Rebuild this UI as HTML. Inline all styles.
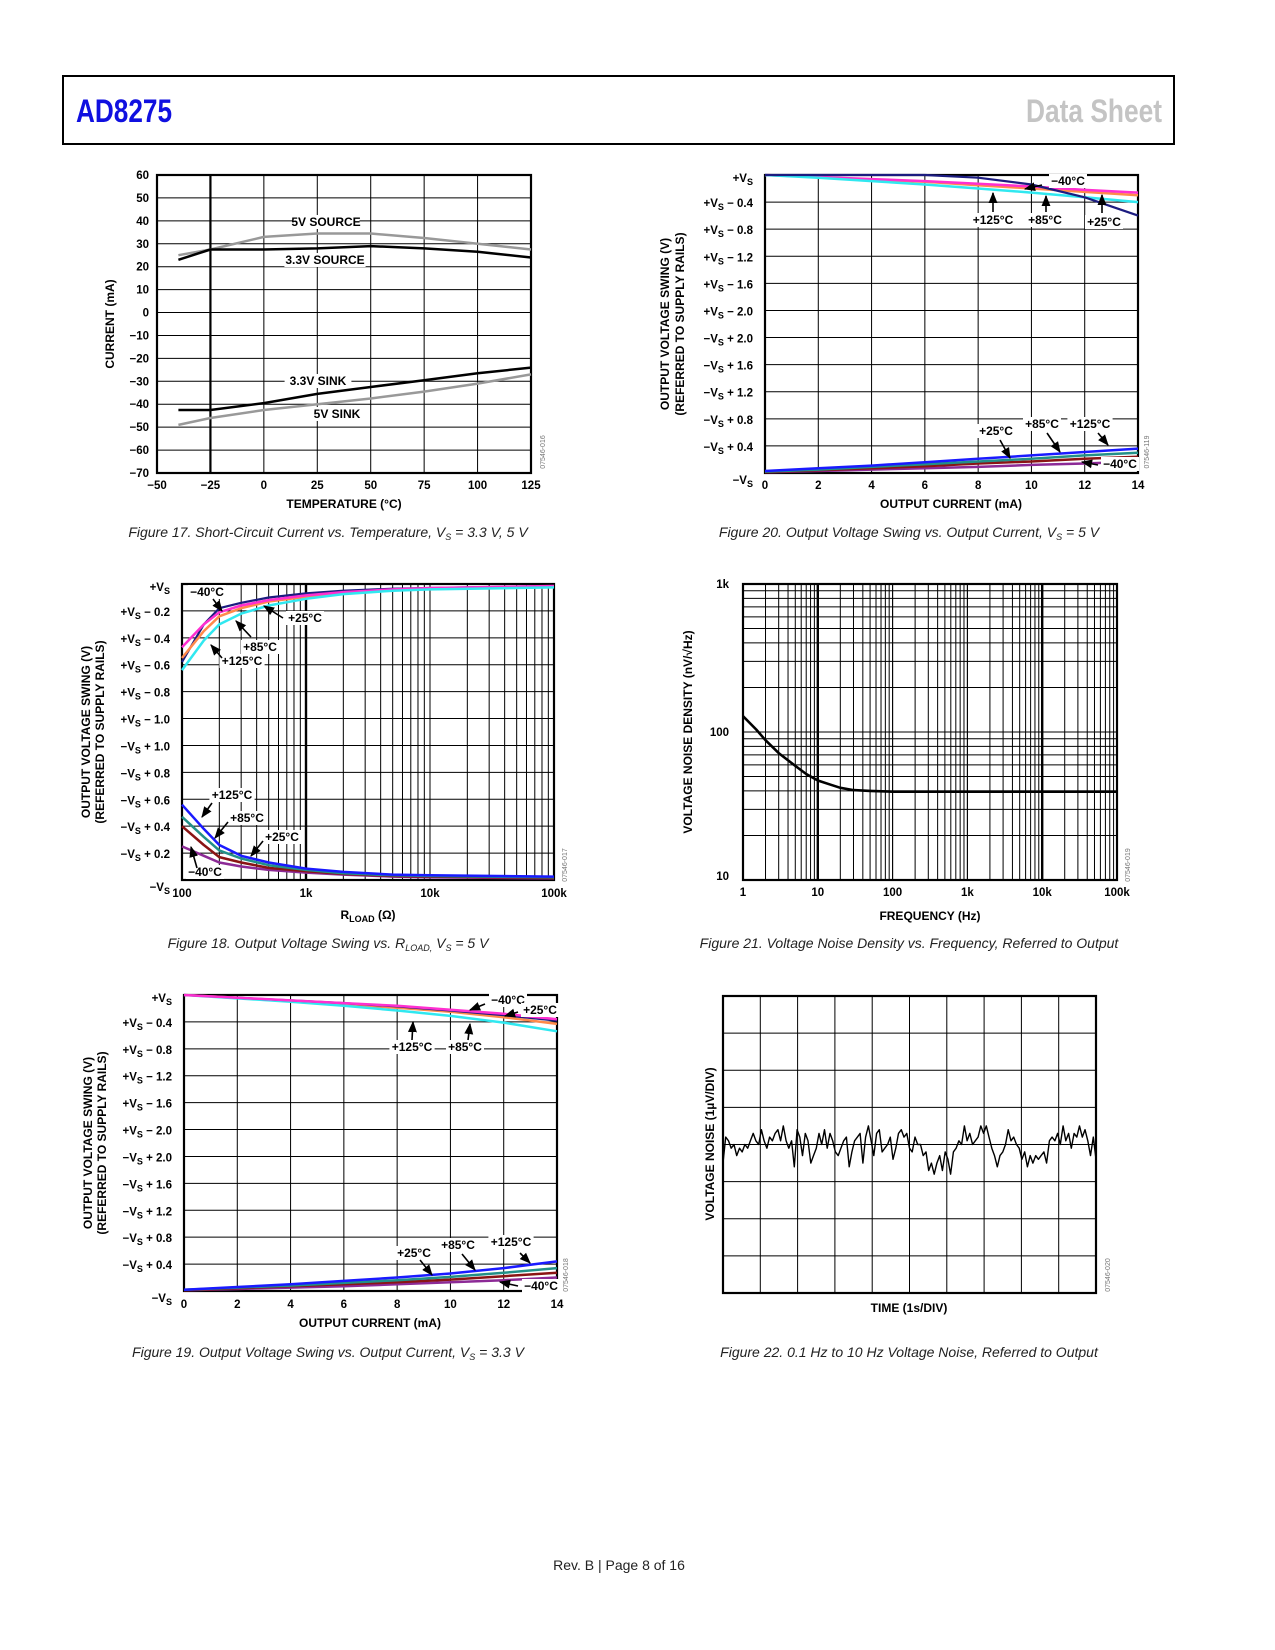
<!DOCTYPE html>
<html><head><meta charset="utf-8"><style>
html,body{margin:0;padding:0;background:#fff;}
svg{display:block;}
text{font-family:"Liberation Sans",Arial,sans-serif;}
.tk{font-size:11.5px;font-weight:bold;fill:#000;}
.lb{font-size:12px;font-weight:bold;fill:#000;}
.cap{font-size:14px;font-style:italic;fill:#222;}
.code{font-size:7px;fill:#777;}
</style></head><body>
<svg id="page" width="1275" height="1650" viewBox="0 0 1275 1650" xmlns="http://www.w3.org/2000/svg">
<defs><marker id="ah" viewBox="0 0 10 10" refX="9" refY="5" markerWidth="7" markerHeight="7" orient="auto"><path d="M0,1 L10,5 L0,9 z" fill="#000"/></marker></defs>
<rect x="63" y="76" width="1111" height="68" fill="none" stroke="#000" stroke-width="2"/>
<text x="76" y="122" font-size="32" font-weight="bold" fill="#1010e0" textLength="96" lengthAdjust="spacingAndGlyphs">AD8275</text>
<text x="1162" y="122" font-size="32" font-weight="bold" fill="#c4c4c4" text-anchor="end" textLength="136" lengthAdjust="spacingAndGlyphs">Data Sheet</text>
<text x="619" y="1570" font-size="14" fill="#222" text-anchor="middle">Rev. B | Page 8 of 16</text>

<text class="cap" x="328" y="537" text-anchor="middle">Figure 17. Short-Circuit Current vs. Temperature, V<tspan font-size="9" dy="3">S</tspan><tspan dy="-3"> = 3.3 V, 5 V</tspan></text>
<text class="cap" x="909" y="537" text-anchor="middle">Figure 20. Output Voltage Swing vs. Output Current, V<tspan font-size="9" dy="3">S</tspan><tspan dy="-3"> = 5 V</tspan></text>
<text class="cap" x="328" y="948" text-anchor="middle">Figure 18. Output Voltage Swing vs. R<tspan font-size="9" dy="3">LOAD,</tspan><tspan dy="-3"> V</tspan><tspan font-size="9" dy="3">S</tspan><tspan dy="-3"> = 5 V</tspan></text>
<text class="cap" x="909" y="948" text-anchor="middle">Figure 21. Voltage Noise Density vs. Frequency, Referred to Output</text>
<text class="cap" x="328" y="1357" text-anchor="middle">Figure 19. Output Voltage Swing vs. Output Current, V<tspan font-size="9" dy="3">S</tspan><tspan dy="-3"> = 3.3 V</tspan></text>
<text class="cap" x="909" y="1357" text-anchor="middle">Figure 22. 0.1 Hz to 10 Hz Voltage Noise, Referred to Output</text>
</svg>
<script>
// ---------- Figure 17 data ----------
const f17Temps=[-40,-25,0,25,50,75,100,125];
const f17Src33=[23,27.5,27.5,28,29,28,26.5,24];
const f17Src5=[25,27.5,33,34.5,34.5,32.5,30,27.5];
const f17Sink33=[-42.5,-42.5,-39.5,-35.5,-32.5,-29.5,-26.5,-24];
const f17Sink5=[-49,-46,-42.5,-40,-37.5,-34.5,-31,-27];
const f17XTicks=[-50,-25,0,25,50,75,100,125];
const f17YTicks=[60,50,40,30,20,10,0,-10,-20,-30,-40,-50,-60,-70];
// ---------- Figure 20 data (Vs=5V) ----------
const f20Current=[0,2,4,6,8,10,12,14];
const f20TopM40=[0,0,0,0,0.04,0.14,0.33,0.6];
const f20Top25=[0,0.03,0.06,0.09,0.13,0.17,0.22,0.26];
const f20Top85=[0,0.03,0.07,0.1,0.15,0.2,0.25,0.3];
const f20Top125=[0,0.04,0.09,0.14,0.2,0.26,0.33,0.4];
const f20Bot125=[0.03,0.07,0.11,0.16,0.21,0.26,0.31,0.36];
const f20Bot85=[0.02,0.05,0.09,0.13,0.17,0.21,0.26,0.30];
const f20Bot25=[0.01,0.04,0.07,0.10,0.14,0.17,0.21,0.24];
const f20BotM40=[0.01,0.03,0.05,0.07,0.09,0.12,0.14,0.17];
const f20XTicks=[0,2,4,6,8,10,12,14];
// ---------- Figure 18 data ----------
const f18Rload=[100,150,200,300,500,1000,2000,5000,10000,100000];
const f18TopM40=[0.58,0.3,0.18,0.14,0.1,0.07,0.05,0.035,0.03,0.015];
const f18Top25=[0.47,0.3,0.21,0.16,0.12,0.085,0.06,0.04,0.03,0.015];
const f18Top85=[0.55,0.35,0.24,0.18,0.13,0.095,0.065,0.045,0.035,0.02];
const f18Top125=[0.64,0.42,0.3,0.22,0.16,0.11,0.075,0.05,0.04,0.025];
const f18Bot125=[0.56,0.38,0.26,0.18,0.13,0.085,0.06,0.04,0.035,0.025];
const f18Bot85=[0.47,0.32,0.22,0.16,0.11,0.075,0.05,0.035,0.03,0.02];
const f18Bot25=[0.40,0.26,0.17,0.13,0.09,0.065,0.045,0.03,0.025,0.015];
const f18BotM40=[0.25,0.18,0.13,0.1,0.075,0.055,0.04,0.025,0.02,0.012];
const f18XTicks=["100","1k","10k","100k"];
// ---------- Figure 19 data (Vs=3.3V) ----------
const f19Current=[0,2,4,6,8,10,12,14];
const f19TopM40=[0,0.04,0.08,0.12,0.17,0.23,0.3,0.38];
const f19Top25=[0,0.04,0.08,0.12,0.16,0.22,0.28,0.36];
const f19Top85=[0,0.04,0.09,0.14,0.19,0.25,0.33,0.43];
const f19Top125=[0,0.05,0.1,0.16,0.23,0.31,0.41,0.54];
const f19Bot125=[0.02,0.06,0.1,0.15,0.2,0.26,0.34,0.44];
const f19Bot85=[0.02,0.05,0.08,0.12,0.16,0.21,0.27,0.34];
const f19Bot25=[0.01,0.04,0.07,0.1,0.13,0.17,0.22,0.27];
const f19BotM40=[0.01,0.03,0.05,0.07,0.1,0.13,0.16,0.2];
// ---------- Figure 21 data ----------
const f21Freq=[1,1.5,2,3,5,7,10,15,20,30,50,100,1000,10000,100000];
const f21Noise=[128,104,88,72,59,52,47,44,42,40.5,40,39.5,39.5,39.5,39.5];
const f21XTicks=["1","10","100","1k","10k","100k"];
const f21YTicks=["1k","100","10"];
// ---------- Figure 22 data (µV, 1 div = 1 µV) ----------
const f22Noise=[-0.5,0.2,0.1,-0.1,0,-0.3,-0.1,-0.2,0,-0.1,0.1,0.3,0.1,0,0.4,0.1,-0.1,0.2,0.1,0.3,0.4,0.1,0.5,0.1,-0.1,0.1,-0.6,0.4,0.2,-0.3,0.3,0.1,-0.5,-0.3,-0.1,0.3,0,0.4,-0.1,0.3,0.1,-0.2,-0.3,-0.1,0.1,0.2,-0.6,-0.2,0.1,0.2,0.3,-0.5,0.2,0.5,0.1,-0.3,0.3,0.4,-0.2,-0.1,0,0.2,-0.4,-0.1,0.3,0.4,0.2,0.3,-0.1,-0.2,0.2,0,0,-0.3,-0.2,-0.7,-0.5,-0.8,-0.5,-0.3,-0.7,-0.2,-0.4,-0.8,-0.2,-0.1,0.1,0,0.5,0.1,0.3,0,0.1,0.2,0.5,0.3,0.5,0.2,-0.1,-0.3,-0.6,-0.3,-0.2,0,0.4,0.1,0.2,0,-0.1,-0.4,-0.2,-0.6,-0.3,-0.5,-0.3,-0.4,-0.3,-0.2,-0.5,0.1,0.2,0.1,0.3,0,0.5,0.1,0.3,-0.1,0.3,0.2,0.5,0.2,0.4,0.1,-0.3,0.2,-0.4];

const svg=document.getElementById('page');
const NS='http://www.w3.org/2000/svg';
function mk(tag,name){const e=document.createElementNS(NS,tag);


svg.appendChild(e);return e;}
function ln(x1,y1,x2,y2,w,name){const e=mk('line',name);e.setAttribute('x1',x1);e.setAttribute('y1',y1);e.setAttribute('x2',x2);e.setAttribute('y2',y2);e.setAttribute('stroke','#000');e.setAttribute('stroke-width',w);return e;}
function tx(x,y,s,cls,anchor,name){const e=mk('text',name);e.setAttribute('x',x);e.setAttribute('y',y);e.setAttribute('class',cls);e.setAttribute('text-anchor',anchor||'middle');e.textContent=s;return e;}
function lbl(x,y,s,name){const w=s.length*7.2+2;const r=mk('rect',name+'-bg');r.setAttribute('x',x-w/2);r.setAttribute('y',y-11);r.setAttribute('width',w);r.setAttribute('height',14);r.setAttribute('fill','#fff');tx(x,y,s,'lb','middle',name);}
function arrow(x1,y1,x2,y2,name){const e=ln(x1,y1,x2,y2,1.6,name);e.setAttribute('marker-end','url(#ah)');}
function poly(xs,ys,fx,fy,color,w,name){const e=mk('polyline',name);e.setAttribute('points',xs.map((v,i)=>fx(v).toFixed(1)+','+fy(ys[i]).toFixed(1)).join(' '));e.setAttribute('fill','none');e.setAttribute('stroke',color);e.setAttribute('stroke-width',w);e.setAttribute('stroke-linejoin','round');return e;}
function frame(L,T,R,B,name){const r=mk('rect',name);r.setAttribute('x',L);r.setAttribute('y',T);r.setAttribute('width',R-L);r.setAttribute('height',B-T);r.setAttribute('fill','none');r.setAttribute('stroke','#000');r.setAttribute('stroke-width',2.2);}
function vtitle(x,y,s,name){const e=tx(x,y,s,'lb','middle',name);e.setAttribute('transform','rotate(-90 '+x+' '+y+')');}
function code(x,y,s){const e=tx(x,y,s,'code','middle','figure-code');e.setAttribute('transform','rotate(-90 '+x+' '+y+')');}
function vsLabel(x,y,sign,rest,name){const e=mk('text',name);e.setAttribute('x',x);e.setAttribute('y',y);e.setAttribute('class','tk');e.setAttribute('text-anchor','end');
e.innerHTML=sign+'V<tspan font-size="9" dy="3">S</tspan><tspan dy="-3">'+rest+'</tspan>';}
const COL={navy:'#1c1c80',mag:'#ff2fd0',ora:'#ff8a4a',cya:'#30e8f0',blu:'#1a1aff',tea:'#229088',bro:'#8a1414',pur:'#8c2a96'};
const YL5=[['+',''],['+',' − 0.4'],['+',' − 0.8'],['+',' − 1.2'],['+',' − 1.6'],['+',' − 2.0'],['−',' + 2.0'],['−',' + 1.6'],['−',' + 1.2'],['−',' + 0.8'],['−',' + 0.4'],['−','']];
const YL18=[['+',''],['+',' − 0.2'],['+',' − 0.4'],['+',' − 0.6'],['+',' − 0.8'],['+',' − 1.0'],['−',' + 1.0'],['−',' + 0.8'],['−',' + 0.6'],['−',' + 0.4'],['−',' + 0.2'],['−','']];

// ===== Figure 17 =====
(function(){const L=157,T=175,R=531,B=473;
const fx=v=>L+(v+50)/175*(R-L), fy=v=>T+(60-v)/130*(B-T);
f17XTicks.forEach(v=>{ln(fx(v),T,fx(v),B,v===-25?2.2:1,'fig17-vgrid');tx(fx(v),B+16,(v<0?'−'+(-v):v),'tk','middle','fig17-x-tick');});
f17YTicks.forEach(v=>{ln(L,fy(v),R,fy(v),1,'fig17-hgrid');tx(L-8,fy(v)+4,(v<0?'−'+(-v):v),'tk','end','fig17-y-tick');});
frame(L,T,R,B,'fig17-plot-frame');
poly(f17Temps,f17Src5,fx,fy,'#999',2.5,'fig17-5v-source');
poly(f17Temps,f17Src33,fx,fy,'#000',2.5,'fig17-3v3-source');
poly(f17Temps,f17Sink33,fx,fy,'#000',2.5,'fig17-3v3-sink');
poly(f17Temps,f17Sink5,fx,fy,'#999',2.5,'fig17-5v-sink');
lbl(326,226,'5V SOURCE','fig17-label-5v-source');lbl(325,264,'3.3V SOURCE','fig17-label-3v3-source');
lbl(318,385,'3.3V SINK','fig17-label-3v3-sink');lbl(337,418,'5V SINK','fig17-label-5v-sink');
vtitle(114,324,'CURRENT (mA)','fig17-y-title');tx(344,508,'TEMPERATURE (°C)','lb','middle','fig17-x-title');code(545,452,'07546-016');
})();

// ===== Figure 20 =====
(function(){const L=765,T=175,R=1138,B=473,D=(B-T)/11;
const fx=v=>L+v/14*(R-L), ft=v=>T+v/0.4*D, fb=v=>B-v/0.4*D;
f20XTicks.forEach(v=>{ln(fx(v),T,fx(v),B,1,'fig20-vgrid');tx(fx(v),B+16,v,'tk','middle','fig20-x-tick');});
for(let i=0;i<=11;i++){ln(L,T+i*D,R,T+i*D,1,'fig20-hgrid');vsLabel(L-12,T+i*D+5+(i==0?2:0)+(i==11?6:0),YL5[i][0],YL5[i][1],'fig20-y-tick');}
frame(L,T,R,B,'fig20-plot-frame');
poly(f20Current,f20Top85,fx,ft,COL.ora,2.5,'fig20-top-85c');poly(f20Current,f20Top25,fx,ft,COL.mag,2.5,'fig20-top-25c');
poly(f20Current,f20Top125,fx,ft,COL.cya,2.5,'fig20-top-125c');poly(f20Current,f20TopM40,fx,ft,COL.navy,2.2,'fig20-top-m40c');
poly(f20Current,f20BotM40,fx,fb,COL.pur,2.5,'fig20-bot-m40c');poly(f20Current,f20Bot25,fx,fb,COL.bro,2.5,'fig20-bot-25c');
poly(f20Current,f20Bot85,fx,fb,COL.tea,2.5,'fig20-bot-85c');poly(f20Current,f20Bot125,fx,fb,COL.blu,2.5,'fig20-bot-125c');
lbl(1068,185,'−40°C','fig20-label-m40');arrow(1042,185,1025,189,'fig20-arrow');
lbl(993,224,'+125°C','fig20-label-125');arrow(993,212,993,193,'fig20-arrow');
lbl(1045,224,'+85°C','fig20-label-85');arrow(1046,212,1046,196,'fig20-arrow');
lbl(1104,226,'+25°C','fig20-label-25');arrow(1102,213,1102,195,'fig20-arrow');
lbl(996,435,'+25°C','fig20-label-b25');arrow(1000,440,1010,458,'fig20-arrow');
lbl(1042,428,'+85°C','fig20-label-b85');arrow(1047,433,1060,452,'fig20-arrow');
lbl(1090,428,'+125°C','fig20-label-b125');arrow(1098,433,1108,445,'fig20-arrow');
lbl(1120,468,'−40°C','fig20-label-bm40');arrow(1098,465,1082,462,'fig20-arrow');
vtitle(669,324,'OUTPUT VOLTAGE SWING (V)','fig20-y-title');vtitle(684,324,'(REFERRED TO SUPPLY RAILS)','fig20-y-title-2');
tx(951,508,'OUTPUT CURRENT (mA)','lb','middle','fig20-x-title');code(1149,452,'07546-119');
})();

// ===== Figure 18 =====
(function(){const L=182,T=584,R=554,B=880,D=(B-T)/11,dec=(R-L)/3;
const fx=v=>L+Math.log10(v/100)*dec, ft=v=>T+v/0.2*D, fb=v=>B-v/0.2*D;
for(let d=0;d<3;d++)for(let m=1;m<=10;m++){const x=L+d*dec+Math.log10(m)*dec;ln(x,T,x,B,(m==1&&d==1)?2.4:1,'fig18-vgrid');}
f18XTicks.forEach((s,i)=>tx(L+i*dec,B+17,s,'tk','middle','fig18-x-tick'));
for(let i=0;i<=11;i++){ln(L,T+i*D,R,T+i*D,1,'fig18-hgrid');vsLabel(L-12,T+i*D+5+(i==0?2:0)+(i==11?6:0),YL18[i][0],YL18[i][1],'fig18-y-tick');}
frame(L,T,R,B,'fig18-plot-frame');
poly(f18Rload,f18TopM40,fx,ft,COL.navy,2.2,'fig18-top-m40c');poly(f18Rload,f18Top85,fx,ft,COL.ora,2.5,'fig18-top-85c');
poly(f18Rload,f18Top25,fx,ft,COL.mag,2.5,'fig18-top-25c');poly(f18Rload,f18Top125,fx,ft,COL.cya,2.5,'fig18-top-125c');
poly(f18Rload,f18BotM40,fx,fb,COL.pur,2.5,'fig18-bot-m40c');poly(f18Rload,f18Bot25,fx,fb,COL.bro,2.5,'fig18-bot-25c');
poly(f18Rload,f18Bot85,fx,fb,COL.tea,2.5,'fig18-bot-85c');poly(f18Rload,f18Bot125,fx,fb,COL.blu,2.5,'fig18-bot-125c');
lbl(207,596,'−40°C','fig18-label-m40');arrow(213,599,222,611,'fig18-arrow');
lbl(305,622,'+25°C','fig18-label-25');arrow(283,618,264,606,'fig18-arrow');
lbl(260,651,'+85°C','fig18-label-85');arrow(251,637,236,621,'fig18-arrow');
lbl(242,665,'+125°C','fig18-label-125');arrow(222,658,211,645,'fig18-arrow');
lbl(232,799,'+125°C','fig18-label-b125');arrow(212,803,202,817,'fig18-arrow');
lbl(247,822,'+85°C','fig18-label-b85');arrow(228,822,215,838,'fig18-arrow');
lbl(282,841,'+25°C','fig18-label-b25');arrow(263,841,251,856,'fig18-arrow');
lbl(205,876,'−40°C','fig18-label-bm40');arrow(197,868,191,847,'fig18-arrow');
vtitle(90,732,'OUTPUT VOLTAGE SWING (V)','fig18-y-title');vtitle(104,732,'(REFERRED TO SUPPLY RAILS)','fig18-y-title-2');
const t=tx(368,919,'','lb','middle','fig18-x-title');t.innerHTML='R<tspan font-size="9" dy="3">LOAD</tspan><tspan dy="-3"> (Ω)</tspan>';
code(567,865,'07546-017');
})();

// ===== Figure 21 =====
(function(){const L=743,T=584,R=1117,B=880,dec=(R-L)/5,vd=(B-T)/2;
const fx=v=>L+Math.log10(v)*dec, fy=v=>B-Math.log10(v/10)*vd;
for(let d=0;d<5;d++)for(let m=1;m<=10;m++){const x=L+d*dec+Math.log10(m)*dec;ln(x,T,x,B,(m==1&&(d==1||d==4))?2.4:1,'fig21-vgrid');}
for(let d=0;d<2;d++)for(let m=1;m<=10;m++){const y=B-d*vd-Math.log10(m)*vd;ln(L,y,R,y,1,'fig21-hgrid');}
f21XTicks.forEach((s,i)=>tx(L+i*dec,B+16,s,'tk','middle','fig21-x-tick'));
f21YTicks.forEach((s,i)=>tx(L-14,T+i*vd+(i==2?0:4),s,'tk','end','fig21-y-tick'));
frame(L,T,R,B,'fig21-plot-frame');
poly(f21Freq,f21Noise,fx,fy,'#000',2.6,'fig21-noise-curve');
vtitle(692,732,'VOLTAGE NOISE DENSITY (nV/√Hz)','fig21-y-title');tx(930,920,'FREQUENCY (Hz)','lb','middle','fig21-x-title');code(1130,865,'07546-019');
})();

// ===== Figure 19 =====
(function(){const L=184,T=995,R=557,B=1291,D=(B-T)/11;
const fx=v=>L+v/14*(R-L), ft=v=>T+v/0.4*D, fb=v=>B-v/0.4*D;
f20XTicks.forEach(v=>{ln(fx(v),T,fx(v),B,1,'fig19-vgrid');tx(fx(v),B+17,v,'tk','middle','fig19-x-tick');});
for(let i=0;i<=11;i++){ln(L,T+i*D,R,T+i*D,1,'fig19-hgrid');vsLabel(L-12,T+i*D+5+(i==0?2:0)+(i==11?6:0),YL5[i][0],YL5[i][1],'fig19-y-tick');}
frame(L,T,R,B,'fig19-plot-frame');
poly(f19Current,f19Top85,fx,ft,COL.ora,2.5,'fig19-top-85c');poly(f19Current,f19Top125,fx,ft,COL.cya,2.5,'fig19-top-125c');
poly(f19Current,f19TopM40,fx,ft,COL.navy,2.2,'fig19-top-m40c');poly(f19Current,f19Top25,fx,ft,COL.mag,2.5,'fig19-top-25c');
poly(f19Current,f19BotM40,fx,fb,COL.pur,2.5,'fig19-bot-m40c');poly(f19Current,f19Bot25,fx,fb,COL.bro,2.5,'fig19-bot-25c');
poly(f19Current,f19Bot85,fx,fb,COL.tea,2.5,'fig19-bot-85c');poly(f19Current,f19Bot125,fx,fb,COL.blu,2.5,'fig19-bot-125c');
lbl(508,1004,'−40°C','fig19-label-m40');arrow(485,1004,470,1010,'fig19-arrow');
lbl(540,1014,'+25°C','fig19-label-25');arrow(518,1012,505,1016,'fig19-arrow');
lbl(412,1051,'+125°C','fig19-label-125');arrow(412,1040,413,1022,'fig19-arrow');
lbl(465,1051,'+85°C','fig19-label-85');arrow(468,1040,470,1024,'fig19-arrow');
lbl(414,1257,'+25°C','fig19-label-b25');arrow(420,1260,432,1275,'fig19-arrow');
lbl(458,1249,'+85°C','fig19-label-b85');arrow(462,1254,475,1270,'fig19-arrow');
lbl(511,1246,'+125°C','fig19-label-b125');arrow(520,1253,530,1263,'fig19-arrow');
lbl(541,1290,'−40°C','fig19-label-bm40');arrow(518,1286,500,1282,'fig19-arrow');
vtitle(92,1143,'OUTPUT VOLTAGE SWING (V)','fig19-y-title');vtitle(106,1143,'(REFERRED TO SUPPLY RAILS)','fig19-y-title-2');
tx(370,1327,'OUTPUT CURRENT (mA)','lb','middle','fig19-x-title');code(568,1275,'07546-018');
})();

// ===== Figure 22 =====
(function(){const L=723,T=996,R=1096,B=1293,dx=(R-L)/10,dy=(B-T)/8,mid=T+4*dy;
for(let i=0;i<=10;i++)ln(L+i*dx,T,L+i*dx,B,1,'fig22-vgrid');
for(let i=0;i<=8;i++)ln(L,T+i*dy,R,T+i*dy,1,'fig22-hgrid');
frame(L,T,R,B,'fig22-plot-frame');
const idx=f22Noise.map((v,i)=>i);const n=f22Noise.length-1;
poly(idx,f22Noise,i=>L+i/n*(R-L),v=>mid-v*dy,'#000',1.4,'fig22-noise-trace');
vtitle(714,1144,'VOLTAGE NOISE (1µV/DIV)','fig22-y-title');tx(909,1312,'TIME (1s/DIV)','lb','middle','fig22-x-title');code(1110,1275,'07546-020');
})();
</script>
</body></html>
